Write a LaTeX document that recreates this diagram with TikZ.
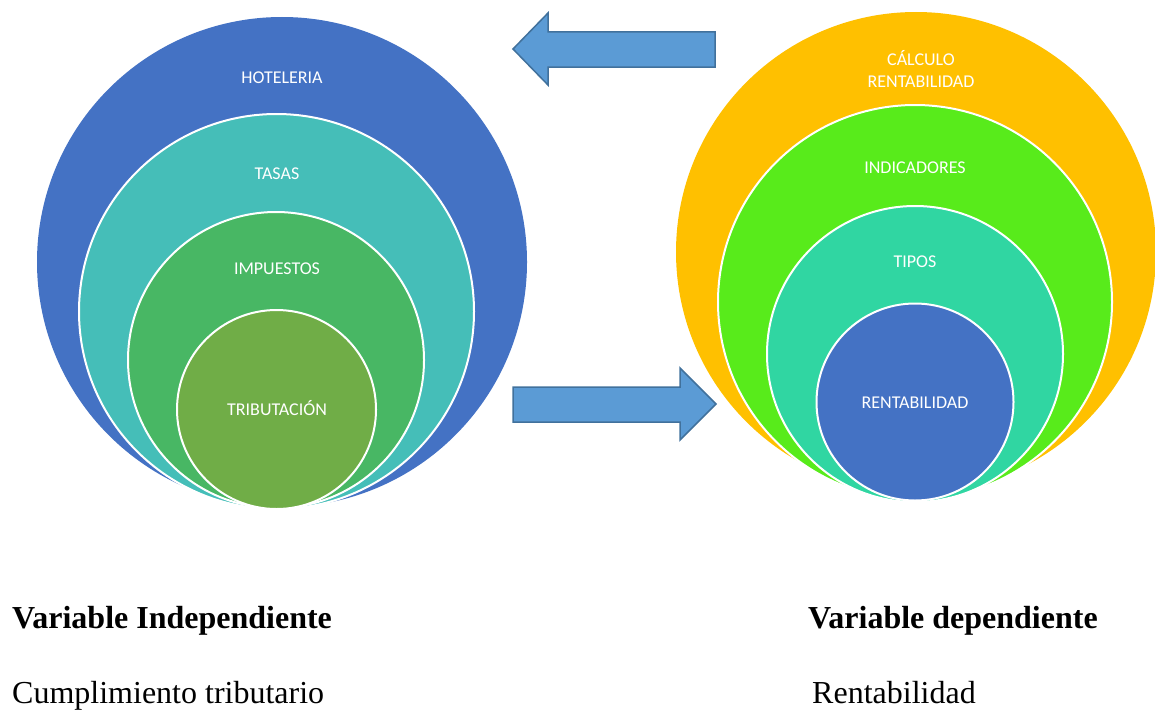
\documentclass[tikz,border=0pt]{standalone}
\usepackage{fontspec}
\setmainfont{Liberation Serif}
\newfontfamily\carlito{Carlito}
\definecolor{hotelblue}{HTML}{4472C4}
\definecolor{tasasteal}{HTML}{45BEB8}
\definecolor{impgreen}{HTML}{48B764}
\definecolor{tribgreen}{HTML}{70AD47}
\definecolor{calcorange}{HTML}{FFC000}
\definecolor{indlime}{HTML}{58EB1B}
\definecolor{tiposteal}{HTML}{30D6A2}
\definecolor{arrowfill}{HTML}{5B9BD5}
\definecolor{arrowline}{HTML}{41719C}

\begin{document}
\begin{tikzpicture}[x=1pt, y=-1pt,
	ring/.style={circle, draw=white, line width=2pt, inner sep=0pt},
	tag/.style={text=white, font=\carlito\fontsize{18}{21}\selectfont, anchor=base, align=center, inner sep=0pt},
	blockarrow/.style={fill=arrowfill, draw=arrowline, line width=1.5pt, line join=miter},
	heading/.style={anchor=base west, inner sep=0pt, font=\fontsize{32}{32}\selectfont\bfseries},
	plain/.style={anchor=base west, inner sep=0pt, font=\fontsize{32}{32}\selectfont}]
	\useasboundingbox (0,0) rectangle (1155,709);
	% independent variable
	\node[fill=hotelblue] (hotel) at (282,262) [circle, inner sep=0pt, minimum size=490pt] {};
	\node[fill=tasasteal] (tasas) at (276.5,311.5) [ring, minimum size=395pt] {};
	\node[fill=impgreen] (impuestos) at (276,360) [ring, minimum size=296pt] {};
	\node[fill=tribgreen] (tributacion) at (276.5,409.5) [ring, minimum size=199pt] {};
		\node (hotelTxt) at (282,83) [tag] {HOTELERIA};
		\node (tasasTxt) at (277,179) [tag] {TASAS};
		\node (impTxt) at (277,274) [tag] {IMPUESTOS};
		\node (tribTxt) at (277,415) [tag] {TRIBUTACIÓN};
	% dependent variable
	\node[fill=calcorange] (calculo) at (916,252) [circle, inner sep=0pt, minimum size=480pt] {};
	\node[fill=indlime] (indicadores) at (915,302) [ring, minimum size=394pt] {};
	\node[fill=tiposteal] (tipos) at (915,354) [ring, minimum size=296pt] {};
	\node[fill=hotelblue] (rentab) at (915,402) [ring, minimum size=197pt] {};
		\node (calcTxt) at (921,87) [tag] {CÁLCULO\\RENTABILIDAD};
		\node (indTxt) at (915,173) [tag] {INDICADORES};
		\node (tiposTxt) at (915,267) [tag] {TIPOS};
		\node (rentTxt) at (915,408) [tag] {RENTABILIDAD};
	% block arrows
	\draw[blockarrow] (715,32) -- (548,32) -- (548,13) -- (513,49) -- (548,85) -- (548,67) -- (715,67) -- cycle;
	\draw[blockarrow] (513,387) -- (680,387) -- (680,368) -- (716,404) -- (680,440) -- (680,422) -- (513,422) -- cycle;
	% captions
	\node (indepHead) at (12,628) [heading] {Variable Independiente};
	\node (indepVar) at (12,703) [plain] {Cumplimiento tributario};
	\node (depHead) at (808,628) [heading] {Variable dependiente};
	\node (depVar) at (812,703) [plain] {Rentabilidad};
\end{tikzpicture}
\end{document}
